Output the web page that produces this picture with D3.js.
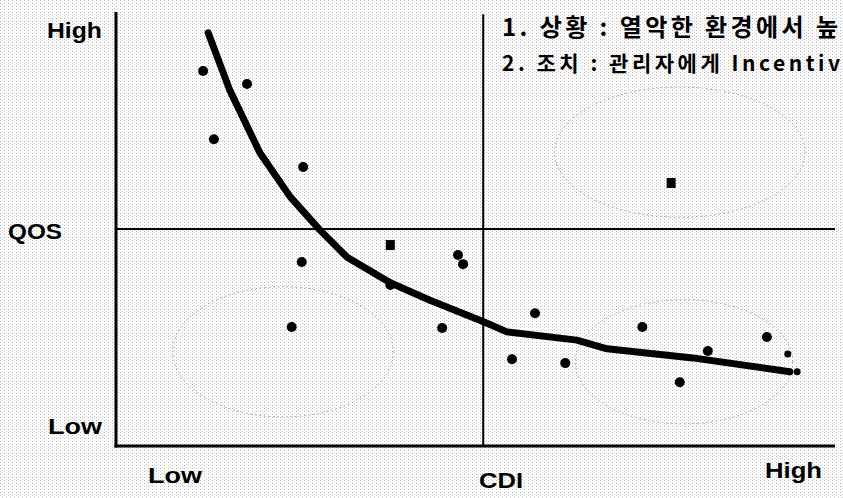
<!DOCTYPE html>
<html>
<head>
<meta charset="utf-8">
<script src="https://cdn.jsdelivr.net/npm/d3@7"></script>
<style>
  body { margin: 0; background: #fff; overflow: hidden; }
  svg { display: block; }
</style>
</head>
<body>
<script>
// CDI (x) vs QOS (y), both 0-100 relative scale
const dotX = [12.1, 13.6, 18.2, 26.0, 25.8, 24.4, 38.1, 47.5, 48.2, 45.3, 58.2, 55.0, 62.4, 73.1, 82.2, 78.3, 90.4, 93.3, 94.6];
const dotY = [86.4, 70.7, 83.4, 64.3, 42.4, 27.4, 37.1, 44.0, 41.9, 27.2, 30.6, 20.0, 19.1, 27.4, 21.9, 14.7, 25.1, 21.2, 17.1];
const dotSmall = [0, 0, 0, 0, 0, 0, 0, 0, 0, 0, 0, 0, 0, 0, 0, 0, 0, 1, 1];

// square markers
const squareX = [38.1, 77.1];
const squareY = [46.3, 60.6];

// trend curve
const curveX = [12.8, 15.8, 20.0, 24.2, 28.3, 32.1, 38.1, 43.6, 50.8, 54.3, 64.0, 68.2, 80.1, 93.6];
const curveY = [95.2, 82.0, 67.5, 57.4, 49.8, 43.5, 37.6, 33.6, 28.8, 26.3, 24.4, 22.4, 20.3, 17.1];

// dotted groupings
const groupCx = [23.2, 78.9, 78.3];
const groupCy = [21.7, 19.4, 67.7];
const groupRx = [15.3, 15.1, 17.4];
const groupRy = [15.0, 14.3, 15.0];

const splitX = 51;
const splitY = 50;

// notes as far as they show in the picture
const notes = ["1. 상황 : 열악한 환경에서 높", "2. 조치 : 관리자에게 Incentiv"];

const width = 843;
const height = 498;

const svg = d3.select("body").append("svg")
    .attr("width", width)
    .attr("height", height);

// scanned-paper texture
const defs = svg.append("defs");
const pat = defs.append("pattern")
    .attr("id", "grain")
    .attr("width", 4).attr("height", 3)
    .attr("patternUnits", "userSpaceOnUse");
pat.append("rect").attr("width", 4).attr("height", 3).attr("fill", "#fff");
pat.append("rect").attr("x", 0).attr("y", 0).attr("width", 1).attr("height", 1).attr("fill", "#b8b8b8");
pat.append("rect").attr("x", 2).attr("y", 2).attr("width", 1).attr("height", 1).attr("fill", "#d4d4d4");

svg.append("rect").attr("width", width).attr("height", height).attr("fill", "url(#grain)");

const x = d3.scaleLinear().domain([0, 100]).range([116, 836]);
const y = d3.scaleLinear().domain([0, 100]).range([446, 12]);

// groupings
svg.selectAll(".group")
    .data(groupCx)
    .enter()
    .append("ellipse")
    .attr("class", "group")
    .attr("cx", d => x(d))
    .attr("cy", (d, i) => y(groupCy[i]))
    .attr("rx", (d, i) => x(groupRx[i]) - x(0))
    .attr("ry", (d, i) => y(0) - y(groupRy[i]))
    .attr("fill", "none")
    .attr("stroke", "#999")
    .attr("stroke-width", 1)
    .attr("stroke-dasharray", "1.5,3");

// quadrant lines
svg.append("line")
    .attr("x1", x(0)).attr("x2", x(100) - 1)
    .attr("y1", y(splitY)).attr("y2", y(splitY))
    .attr("stroke", "#000").attr("stroke-width", 2);
svg.append("line")
    .attr("x1", x(splitX)).attr("x2", x(splitX))
    .attr("y1", y(99.5)).attr("y2", y(0))
    .attr("stroke", "#000").attr("stroke-width", 2);

// axes
svg.append("line")
    .attr("x1", x(0)).attr("x2", x(0))
    .attr("y1", y(100)).attr("y2", y(0) + 1.5)
    .attr("stroke", "#000").attr("stroke-width", 3);
svg.append("line")
    .attr("x1", x(0) - 1.5).attr("x2", x(100) - 1)
    .attr("y1", y(0)).attr("y2", y(0))
    .attr("stroke", "#000").attr("stroke-width", 3);

// trend curve
const line = d3.line()
    .x(d => x(d[0]))
    .y(d => y(d[1]))
    .curve(d3.curveLinear);

svg.append("path")
    .datum(curveX.map((d, i) => [d, curveY[i]]))
    .attr("d", line)
    .attr("fill", "none")
    .attr("stroke", "#000")
    .attr("stroke-width", 7)
    .attr("stroke-linejoin", "round")
    .attr("stroke-linecap", "round");

// dots
svg.selectAll(".dot")
    .data(dotX)
    .enter()
    .append("circle")
    .attr("class", "dot")
    .attr("cx", d => x(d))
    .attr("cy", (d, i) => y(dotY[i]))
    .attr("r", (d, i) => dotSmall[i] ? 3.5 : 5)
    .attr("fill", "#000");

svg.selectAll(".sq")
    .data(squareX)
    .enter()
    .append("rect")
    .attr("class", "sq")
    .attr("x", d => x(d) - 4.5)
    .attr("y", (d, i) => y(squareY[i]) - 5)
    .attr("width", 9)
    .attr("height", 10)
    .attr("fill", "#000");

// axis labels
const labelFont = "'Liberation Sans', Arial, sans-serif";
const labels = [
    {t: "High", x: 47, y: 38, w: 55},
    {t: "QOS", x: 8, y: 239, w: 54},
    {t: "Low", x: 48, y: 434, w: 54},
    {t: "Low", x: 148, y: 483, w: 54},
    {t: "CDI", x: 479, y: 488, w: 44},
    {t: "High", x: 765, y: 478, w: 57}
];
svg.selectAll(".lab")
    .data(labels)
    .enter()
    .append("text")
    .attr("class", "lab")
    .attr("x", d => d.x)
    .attr("y", d => d.y)
    .attr("textLength", d => d.w)
    .attr("lengthAdjust", "spacingAndGlyphs")
    .style("font-family", labelFont)
    .style("font-weight", "bold")
    .style("font-size", "22px")
    .attr("fill", "#000")
    .text(d => d.t);

// notes
svg.append("text")
    .attr("x", 502).attr("y", 36)
    .attr("textLength", 336)
    .attr("lengthAdjust", "spacing")
    .style("font-family", "'Noto Sans CJK KR', sans-serif")
    .style("font-weight", "bold")
    .style("font-size", "24px")
    .attr("fill", "#000")
    .text(notes[0]);
svg.append("text")
    .attr("x", 502).attr("y", 71)
    .attr("textLength", 338)
    .attr("lengthAdjust", "spacing")
    .style("font-family", "'Noto Sans CJK KR', sans-serif")
    .style("font-weight", "bold")
    .style("font-size", "21px")
    .attr("fill", "#000")
    .text(notes[1]);
</script>
</body>
</html>
